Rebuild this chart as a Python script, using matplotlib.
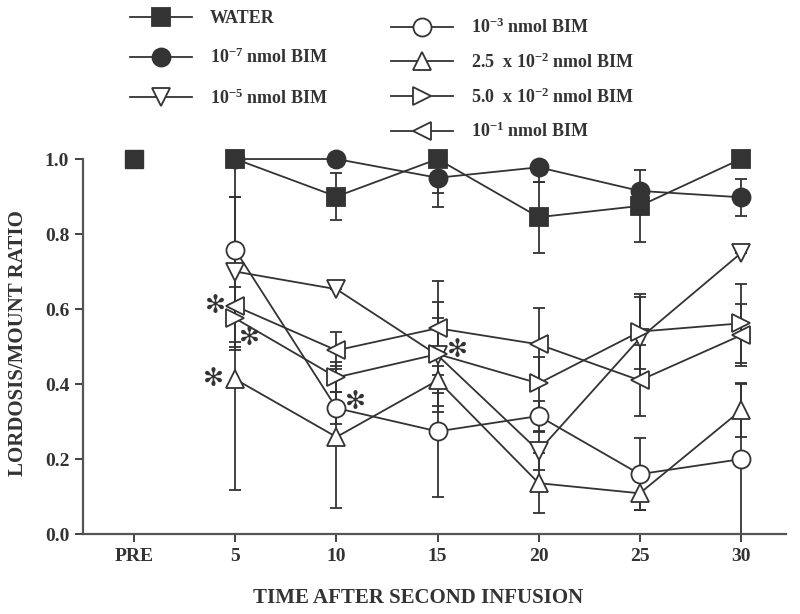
import matplotlib.pyplot as plt

plt.rcParams['font.family'] = ['Liberation Serif', 'DejaVu Serif']
plt.rcParams['font.weight'] = 'bold'
plt.rcParams['mathtext.default'] = 'regular'

# zeit-achse: PRE + 5..30 min
times = ['PRE', '5', '10', '15', '20', '25', '30']
pre_x = [0]
pre_val = [1.0]
tx = [1, 2, 3, 4, 5, 6]

water = [1.0, 0.90, 1.0, 0.845, 0.875, 1.0]
water_err = [0.10, 0.063, 0.09, 0.095, 0.097, 0.0]
bim7 = [1.0, 1.0, 0.95, 0.978, 0.915, 0.898]
bim7_err = [0.0, 0.0, 0.077, 0.038, 0.0, 0.05]
bim5 = [0.70, 0.653, 0.477, 0.222, 0.522, 0.749]
bim5_err = [0.20, 0.0, 0.10, 0.05, 0.11, 0.0]
bim3 = [0.757, 0.336, 0.274, 0.315, 0.16, 0.20]
bim3_err = [0.143, 0.043, 0.175, 0.04, 0.096, 0.20]
bim25 = [0.413, 0.259, 0.41, 0.136, 0.109, 0.33]
bim25_err = [0.296, 0.19, 0.083, 0.08, 0.045, 0.072]
bim50 = [0.575, 0.418, 0.48, 0.402, 0.54, 0.562]
bim50_err = [0.085, 0.04, 0.138, 0.07, 0.10, 0.105]
bim1 = [0.608, 0.49, 0.549, 0.506, 0.41, 0.53]
bim1_err = [0.095, 0.05, 0.126, 0.097, 0.095, 0.083]

# signifikante punkte (x-index, wert, offset in px)
stars = [(1, 0.608, -20, 0), (1, 0.575, 14, -20), (1, 0.413, -22, 0),
         (2, 0.336, 19, 6), (3, 0.48, 20, 4)]

col = '#333333'
ms = 13

fig = plt.figure(figsize=(8, 6.14), dpi=100)
ax = fig.add_axes([0.104, 0.130, 0.879, 0.611])

series = [
    ('WATER', water, water_err, 's', col),
    ('10$^{-7}$ nmol BIM', bim7, bim7_err, 'o', col),
    ('10$^{-5}$ nmol BIM', bim5, bim5_err, 'v', 'white'),
    ('10$^{-3}$ nmol BIM', bim3, bim3_err, 'o', 'white'),
    ('2.5  x 10$^{-2}$ nmol BIM', bim25, bim25_err, '^', 'white'),
    ('5.0  x 10$^{-2}$ nmol BIM', bim50, bim50_err, '>', 'white'),
    ('10$^{-1}$ nmol BIM', bim1, bim1_err, '<', 'white'),
]

handles = []
for lab, y, e, m, fc in series:
    ax.errorbar(tx, y, yerr=e, fmt='none', ecolor=col, elinewidth=1.3,
                capsize=4, capthick=1.3)
for lab, y, e, m, fc in series:
    h, = ax.plot(tx, y, color=col, lw=1.3, marker=m, ms=ms, mfc=fc,
                 mec=col, mew=1.3, clip_on=False, label=lab)
    handles.append(h)

ax.plot(pre_x, pre_val, 's', color=col, ms=ms, clip_on=False)

for xi, yv, dx, dy in stars:
    ax.annotate('✻', (xi, yv), xytext=(dx, dy), textcoords='offset pixels',
                ha='center', va='center', fontsize=18, color=col,
                family='DejaVu Sans', fontweight='bold')

ax.set_xlim(-0.505, 6.45)
ax.set_ylim(0, 1.0)
ax.set_xticks(range(len(times)))
ax.set_xticklabels(times)
ax.set_yticks([0, 0.2, 0.4, 0.6, 0.8, 1.0])
ax.set_yticklabels(['0.0', '0.2', '0.4', '0.6', '0.8', '1.0'])
ax.tick_params(colors=col, labelsize=14, length=6, width=1.3, pad=4)
for lbl in ax.get_xticklabels() + ax.get_yticklabels():
    lbl.set_fontweight('bold')
for s in ['top', 'right']:
    ax.spines[s].set_visible(False)
for s in ['left', 'bottom']:
    ax.spines[s].set_color('#555555')
    ax.spines[s].set_linewidth(1.6)

fig.text(0.023, 0.441, 'LORDOSIS/MOUNT RATIO', rotation=90, ha='center',
         va='center', fontsize=15, color=col)
fig.text(0.523, 0.026, 'TIME AFTER SECOND INFUSION', ha='center',
         va='center', fontsize=15, color=col)

leg_kw = dict(frameon=False, handlelength=3.4, handletextpad=1.0,
              fontsize=13, borderaxespad=0, labelcolor=col)
fig.legend(handles=handles[:3], loc='upper left', labelspacing=1.15,
           bbox_to_anchor=(0.154, 0.995), **leg_kw)
fig.legend(handles=handles[3:], loc='upper left', labelspacing=0.85,
           bbox_to_anchor=(0.480, 0.983), **leg_kw)

plt.savefig('out.png', dpi=100)
